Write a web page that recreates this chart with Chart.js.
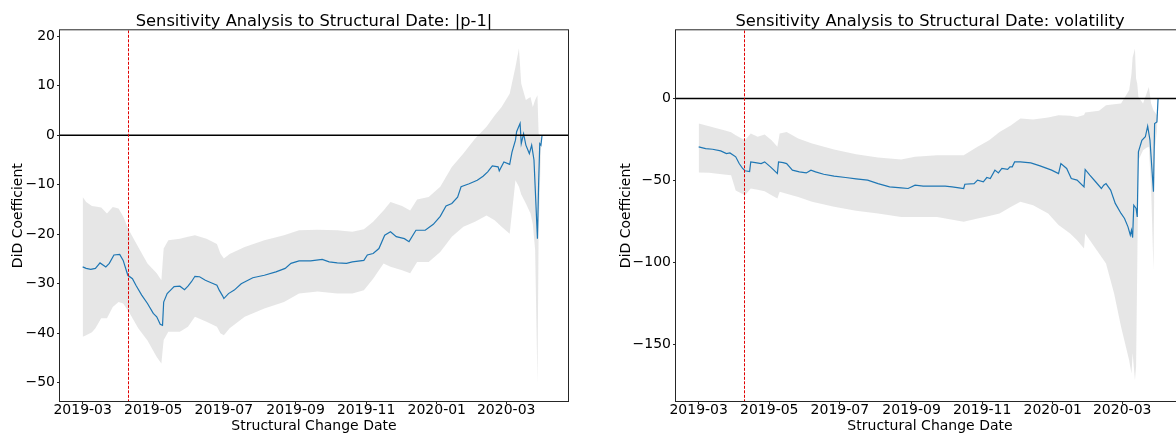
<!DOCTYPE html>
<html>
<head>
<meta charset="utf-8">
<script src="https://cdn.jsdelivr.net/npm/chart.js@4.4.0/dist/chart.umd.min.js"></script>
<style>
html, body { margin: 0; padding: 0; background: #fff; overflow: hidden; width: 1176px; height: 433px; }
#left { position: absolute; left: 0; top: 0; }
#right { position: absolute; left: 600px; top: 0; }
</style>
</head>
<body>
<canvas id="left" width="590" height="433"></canvas>
<canvas id="right" width="606" height="433"></canvas>
<script>
// all x values are days since the first structural date tried, 2019-03-01
const startDate = '2019-03-01';
const breakDate = '2019-04-09';
const monthTicks = ['2019-03', '2019-05', '2019-07', '2019-09', '2019-11', '2020-01', '2020-03'];

// |p-1|
const p1LineDays = [0,3,7,11,15,20,23,27,32,35,39,43,46,51,56,61,64,67,69,70,73,76,79,84,88,91,94,97,101,106,
  111,116,118,121,122,126,131,137,147,157,167,175,180,187,197,207,213,220,228,233,243,246,251,256,261,266,271,278,282,288,
  296,303,309,314,319,324,327,334,341,346,350,354,359,360,364,369,371,374,375,378,379,381,383,386,388,390,393,394,395,396,397];
const p1Coef = [-26.6,-26.9,-27.1,-26.9,-25.8,-26.6,-25.9,-24.2,-24.1,-25.3,-28.3,-29,-30.3,-32.3,-34,-36,-36.7,-38.2,-38.4,-33.7,
  -32,-31.3,-30.6,-30.5,-31.2,-30.5,-29.6,-28.5,-28.6,-29.3,-29.8,-30.3,-31.3,-32.5,-33,-32,-31.3,-30,-28.8,-28.3,
  -27.6,-26.9,-25.9,-25.4,-25.4,-25.1,-25.6,-25.8,-25.9,-25.6,-25.3,-24.2,-23.9,-22.9,-20.2,-19.5,-20.5,-20.9,-21.5,-19.2,
  -19.2,-18,-16.4,-14.3,-13.8,-12.5,-10.4,-9.8,-9.1,-8.3,-7.4,-6.2,-6.4,-7.2,-5.4,-5.9,-3.4,-1.0,0.7,2.4,
  -1.7,0.3,-2,-3.7,-2.0,-5,-20.9,-9.8,-1.7,-2,0];
const p1BandDays = [0,3,8,11,16,21,26,31,35,40,48,56,64,68,70,74,84,91,97,107,116,119,122,127,140,157,174,187,203,220,
  233,243,251,260,266,276,283,289,299,309,319,329,339,349,356,362,369,374,377,379,383,387,389,391,393,394,396,397];
const p1Upper = [-12.5,-13.5,-14.3,-14.4,-14.6,-15.8,-14.5,-14.8,-16.4,-19.2,-22.6,-25.9,-27.9,-29.3,-22.9,-21.2,-20.9,-20.5,-20.2,-20.9,
  -22,-23.9,-24.9,-24,-22.6,-21.2,-20.2,-19.2,-19.1,-19.2,-19.5,-19,-17.5,-15.2,-13.5,-14.3,-15.2,-13,-12.5,-10.4,
  -6.4,-3.7,-0.7,1.7,4,5.7,8.4,13.8,17.5,10.4,7.1,7.7,5.7,7.1,8.1,0.3,-0.5,0];
const p1Lower = [-40.7,-40.4,-39.8,-39,-37,-37,-34.7,-33.7,-34,-35.7,-39,-41.5,-44.8,-46.1,-41.4,-39.7,-39.7,-38.7,-36.7,-37.7,
  -38.7,-40,-40.4,-39,-36.7,-35,-33.7,-32,-31.6,-32,-32,-31.3,-29,-25.9,-26.6,-27.3,-27.9,-25.6,-25.6,-23.6,
  -20.5,-18.5,-17.5,-16.2,-17.2,-18.5,-19.9,-9.1,-10.4,-12,-13.8,-15.8,-18,-23.2,-50,-19.9,-3,0];
const p1YTicks = [-50, -40, -30, -20, -10, 0, 10, 20];

// volatility
const volLineDays = [0,6,12,19,24,27,30,32,35,38,40,44,45,49,54,57,62,65,68,69,73,76,81,87,93,97,101,108,117,127,
  136,146,155,165,175,181,187,194,203,213,219,225,229,230,238,241,246,249,252,256,259,262,267,269,271,273,278,287,295,305,
  311,313,318,322,327,333,334,338,343,348,350,352,356,360,365,368,371,373,374,375,376,378,379,380,383,386,388,390,393,394,396,397];
const volCoef = [-29.4,-30.5,-30.9,-31.9,-33.5,-33.1,-34.5,-35.5,-39.6,-42.6,-44,-44.5,-38.6,-39,-39.6,-38.6,-41.6,-43.6,-45.7,-38.6,
  -39,-39.6,-43.6,-44.7,-45.3,-43.6,-44.7,-46.1,-47.3,-48.1,-48.9,-49.7,-51.8,-53.8,-54.4,-54.8,-52.8,-53.4,-53.4,-53.4,
  -53.8,-54.4,-54.8,-52.2,-51.8,-49.7,-50.7,-48.1,-48.7,-43.6,-45.3,-42.6,-43.2,-41.6,-41.6,-38.6,-38.6,-39.2,-41,-43.6,
  -45.7,-39.6,-42.6,-48.7,-49.7,-53.8,-43.2,-46.7,-50.7,-54.8,-52.8,-51.8,-55.8,-63.9,-70,-73.1,-78.2,-83.2,-80.2,-84.7,
  -65,-67,-72.1,-32.5,-25.4,-23.3,-16.8,-25.4,-56.8,-15.2,-14.2,0];
const volBandDays = [0,9,22,28,32,40,45,51,57,63,68,70,76,86,98,117,136,155,175,187,206,229,241,251,260,270,278,289,302,311,
  321,327,333,334,346,352,359,365,372,374,375,377,378,379,380,384,387,389,391,393,394,396,397];
const volUpper = [-15.2,-16.8,-19.3,-20.5,-22.3,-25.4,-21.3,-23.3,-21.9,-25.4,-29.4,-21.3,-20.3,-24.4,-27.4,-31.1,-33.9,-35.9,-37.1,-35.5,
  -34.5,-34.5,-29.4,-25.4,-20.3,-16.2,-12.2,-12.8,-11.5,-10.2,-10.5,-11.2,-10,-8.5,-7.5,-4.1,-3.5,-3,5.1,15,
  25,30.5,12,9.1,1,-3,3,7.1,-3,-7.1,-8,-10,0];
const volLower = [-45.1,-45.2,-46.2,-46.7,-56,-58.9,-54.8,-55.5,-56.5,-58.9,-60.9,-56.8,-58,-60,-62.9,-66,-68.4,-70,-72.1,-72.1,
  -72.1,-75.1,-73.1,-71.5,-70,-66,-62.9,-65,-70,-77.1,-82.2,-86.3,-91.4,-82.2,-94.4,-100.5,-118.8,-139.1,-159.4,-167.5,
  -155,-171.5,-163.4,-102.5,-37.6,-31.5,-30,-29.4,-55,-104.5,-31.5,-20,0];
const volYTicks = [-150, -100, -50, 0];

Chart.defaults.font.family = '"DejaVu Sans", sans-serif';
Chart.defaults.color = '#000';

function dayOf(s) {
    const p = s.split('-').map(Number);
    const p0 = startDate.split('-').map(Number);
    return (Date.UTC(p[0], p[1] - 1, p[2] || 1) - Date.UTC(p0[0], p0[1] - 1, p0[2])) / 86400000;
}

function points(days, vals) {
    return days.map((d, i) => ({ x: d, y: vals[i] }));
}

const tickDays = monthTicks.map(dayOf);

// zero line, break date line and the axes frame
const refLines = {
    id: 'refLines',
    afterDatasetsDraw(chart) {
        const { ctx, chartArea: a, scales: { x, y } } = chart;
        ctx.save();
        ctx.beginPath();
        ctx.rect(a.left, a.top, a.width, a.height);
        ctx.clip();
        const y0 = y.getPixelForValue(0);
        ctx.strokeStyle = '#000';
        ctx.lineWidth = 1.5;
        ctx.beginPath();
        ctx.moveTo(a.left, y0);
        ctx.lineTo(a.right, y0);
        ctx.stroke();
        const xb = Math.round(x.getPixelForValue(dayOf(breakDate))) + 0.5;
        ctx.strokeStyle = '#e00000';
        ctx.lineWidth = 1;
        ctx.setLineDash([3, 1.5]);
        ctx.beginPath();
        ctx.moveTo(xb, a.top);
        ctx.lineTo(xb, a.bottom);
        ctx.stroke();
        ctx.restore();
        ctx.save();
        ctx.strokeStyle = '#262626';
        ctx.lineWidth = 1;
        ctx.strokeRect(a.left - 0.5, a.top - 0.5, a.width + 1, a.height + 1);
        ctx.restore();
    }
};

function makeChart(id, title, lineDays, coef, bandDays, lower, upper, yTicks, yMin, yMax, yWidth, yTitlePad) {
    new Chart(document.getElementById(id), {
        type: 'line',
        data: {
            datasets: [
                { data: points(lineDays, coef), borderColor: '#1f77b4', borderWidth: 1.2, pointRadius: 0, fill: false, tension: 0 },
                { data: points(bandDays, lower), borderColor: 'rgba(0,0,0,0)', borderWidth: 0, pointRadius: 0, fill: false },
                { data: points(bandDays, upper), borderColor: 'rgba(0,0,0,0)', borderWidth: 0, pointRadius: 0,
                  fill: '-1', backgroundColor: 'rgba(128,128,128,0.2)' }
            ]
        },
        options: {
            responsive: false,
            animation: false,
            devicePixelRatio: 1,
            layout: { padding: { left: 0, right: 22, top: 0, bottom: 0 } },
            plugins: {
                legend: { display: false },
                tooltip: { enabled: false },
                title: {
                    display: true,
                    text: title,
                    fullSize: false,
                    color: '#000',
                    font: { size: 16.3, weight: 'normal', lineHeight: 1 },
                    padding: { top: 14, bottom: 0 }
                }
            },
            scales: {
                x: {
                    type: 'linear',
                    min: -19.6,
                    max: 419.4,
                    afterBuildTicks: s => { s.ticks = tickDays.map(v => ({ value: v })); },
                    afterFit: s => { s.height = 32; },
                    ticks: {
                        callback: (v, i) => monthTicks[i],
                        autoSkip: false,
                        maxRotation: 0,
                        padding: -1,
                        color: '#000',
                        font: { size: 14, lineHeight: 1 }
                    },
                    grid: { drawOnChartArea: false, drawTicks: true, tickLength: 3, color: '#262626' },
                    border: { display: false },
                    title: {
                        display: true,
                        text: 'Structural Change Date',
                        color: '#000',
                        font: { size: 14, lineHeight: 0.8 },
                        padding: { top: 0, bottom: 0.8 }
                    }
                },
                y: {
                    min: yMin,
                    max: yMax,
                    afterBuildTicks: s => { s.ticks = yTicks.map(v => ({ value: v })); },
                    afterFit: s => { s.width = yWidth; },
                    ticks: {
                        callback: v => String(v).replace('-', '\u2212'),
                        padding: 2,
                        color: '#000',
                        font: { size: 14 }
                    },
                    grid: { drawOnChartArea: false, drawTicks: true, tickLength: 3, color: '#262626' },
                    border: { display: false },
                    title: {
                        display: true,
                        text: 'DiD Coefficient',
                        color: '#000',
                        font: { size: 14 },
                        padding: { top: yTitlePad, bottom: 0 }
                    }
                }
            }
        },
        plugins: [refLines]
    });
}

makeChart('left', 'Sensitivity Analysis to Structural Date: |p-1|',
    p1LineDays, p1Coef, p1BandDays, p1Lower, p1Upper, p1YTicks, -53.7, 21.2, 60, 9.6);
makeChart('right', 'Sensitivity Analysis to Structural Date: volatility',
    volLineDays, volCoef, volBandDays, volLower, volUpper, volYTicks, -184.3, 41.6, 76, 17.6);
</script>
</body>
</html>
